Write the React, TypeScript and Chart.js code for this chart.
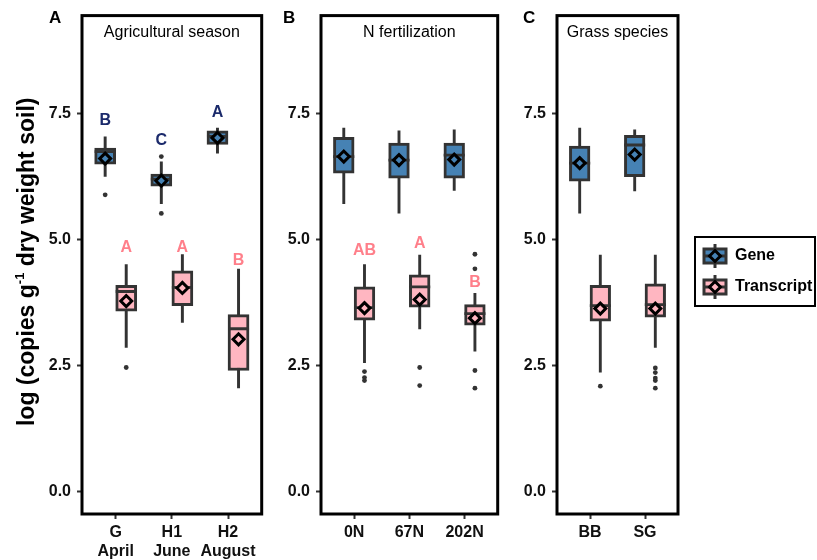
import React, { useEffect, useRef } from 'react';
import { Chart, registerables } from 'chart.js';

Chart.register(...registerables);

const FONT = '"Liberation Sans", Arial, Helvetica, sans-serif';

// ---------------- shared data ----------------
const seriesNames = ['Gene', 'Transcript'];
const seriesFills = ['#4682B4', '#FFB6C1'];
const letterColors = ['#1B2A6B', '#FF7F8A'];
const yTicks = [0, 2.5, 5, 7.5];
const yMin = -0.45;
const yMax = 9.45;
const yTitleParts = ['log (copies g', '-1', ' dry weight soil)'];
const panelTags = ['A', 'B', 'C'];
const panelTitles = ['Agricultural season', 'N fertilization', 'Grass species'];

// ---------------- Panel A: agricultural season ----------------
const seasonCategories = [['G', 'April'], ['H1', 'June'], ['H2', 'August']];
const seasonGeneLow = [6.25, 5.71, 6.71];
const seasonGeneQ1 = [6.5, 6.06, 6.89];
const seasonGeneMedian = [6.75, 6.2, 7.05];
const seasonGeneQ3 = [6.82, 6.3, 7.16];
const seasonGeneHigh = [7.05, 6.55, 7.22];
const seasonGeneMean = [6.61, 6.17, 7.02];
const seasonGeneOutliers = [[5.89], [6.65, 5.52], []];
const seasonGeneLetters = ['B', 'C', 'A'];
const seasonGeneLetterY = [7.37, 6.97, 7.52];

const seasonTxLow = [2.85, 3.35, 2.05];
const seasonTxQ1 = [3.58, 3.69, 2.4];
const seasonTxMedian = [3.97, 4.05, 3.23];
const seasonTxQ3 = [4.09, 4.38, 3.51];
const seasonTxHigh = [4.51, 4.71, 4.42];
const seasonTxMean = [3.78, 4.04, 3.02];
const seasonTxOutliers = [[2.46], [], []];
const seasonTxLetters = ['A', 'A', 'B'];
const seasonTxLetterY = [4.84, 4.84, 4.58];

// ---------------- Panel B: N fertilization ----------------
const fertCategories = [['0N'], ['67N'], ['202N']];
const fertGeneLow = [5.71, 5.52, 5.97];
const fertGeneQ1 = [6.32, 6.22, 6.22];
const fertGeneMedian = [6.65, 6.58, 6.68];
const fertGeneQ3 = [7.03, 6.92, 6.92];
const fertGeneHigh = [7.22, 7.17, 7.19];
const fertGeneMean = [6.65, 6.58, 6.59];
const fertGeneOutliers: number[][] = [[], [], []];

const fertTxLow = [2.55, 3.22, 2.78];
const fertTxQ1 = [3.4, 3.66, 3.3];
const fertTxMedian = [3.65, 4.06, 3.53];
const fertTxQ3 = [4.06, 4.3, 3.71];
const fertTxHigh = [4.51, 4.7, 3.94];
const fertTxMean = [3.64, 3.81, 3.44];
const fertTxOutliers = [[2.38, 2.26, 2.2], [2.46, 2.1], [4.71, 4.42, 2.4, 2.05]];
const fertTxLetters = ['AB', 'A', 'B'];
const fertTxLetterY = [4.78, 4.92, 4.15];

// ---------------- Panel C: grass species ----------------
const grassCategories = [['BB'], ['SG']];
const grassGeneLow = [5.52, 5.96];
const grassGeneQ1 = [6.16, 6.25];
const grassGeneMedian = [6.52, 6.88];
const grassGeneQ3 = [6.86, 7.07];
const grassGeneHigh = [7.22, 7.19];
const grassGeneMean = [6.52, 6.69];
const grassGeneOutliers: number[][] = [[], []];

const grassTxLow = [2.36, 2.85];
const grassTxQ1 = [3.38, 3.46];
const grassTxMedian = [3.69, 3.71];
const grassTxQ3 = [4.09, 4.12];
const grassTxHigh = [4.7, 4.7];
const grassTxMean = [3.63, 3.63];
const grassTxOutliers = [[2.09], [2.45, 2.36, 2.25, 2.2, 2.05]];

// ---------------- types & styling ----------------
type Stats = {
  low: number[]; q1: number[]; median: number[]; q3: number[]; high: number[];
  mean: number[]; outliers: number[][]; letters?: string[]; letterY?: number[];
};

type Layout = {
  left: number; width: number; axisWidth: number; padRight: number; tagDx: number;
  yTitle?: boolean; legend?: boolean;
};

type PanelSpec = { tag: string; title: string; categories: string[][]; series: Stats[]; layout: Layout };

const EDGE = '#333333';
const DODGE = [-0.1875, 0.1875];
const H = 560;

const panels: PanelSpec[] = [
  {
    tag: panelTags[0], title: panelTitles[0], categories: seasonCategories,
    series: [
      { low: seasonGeneLow, q1: seasonGeneQ1, median: seasonGeneMedian, q3: seasonGeneQ3, high: seasonGeneHigh, mean: seasonGeneMean, outliers: seasonGeneOutliers, letters: seasonGeneLetters, letterY: seasonGeneLetterY },
      { low: seasonTxLow, q1: seasonTxQ1, median: seasonTxMedian, q3: seasonTxQ3, high: seasonTxHigh, mean: seasonTxMean, outliers: seasonTxOutliers, letters: seasonTxLetters, letterY: seasonTxLetterY },
    ],
    layout: { left: 0, width: 275, axisWidth: 82, padRight: 9, tagDx: -33, yTitle: true },
  },
  {
    tag: panelTags[1], title: panelTitles[1], categories: fertCategories,
    series: [
      { low: fertGeneLow, q1: fertGeneQ1, median: fertGeneMedian, q3: fertGeneQ3, high: fertGeneHigh, mean: fertGeneMean, outliers: fertGeneOutliers },
      { low: fertTxLow, q1: fertTxQ1, median: fertTxMedian, q3: fertTxQ3, high: fertTxHigh, mean: fertTxMean, outliers: fertTxOutliers, letters: fertTxLetters, letterY: fertTxLetterY },
    ],
    layout: { left: 275, width: 236, axisWidth: 46, padRight: 7, tagDx: -38 },
  },
  {
    tag: panelTags[2], title: panelTitles[2], categories: grassCategories,
    series: [
      { low: grassGeneLow, q1: grassGeneQ1, median: grassGeneMedian, q3: grassGeneQ3, high: grassGeneHigh, mean: grassGeneMean, outliers: grassGeneOutliers },
      { low: grassTxLow, q1: grassTxQ1, median: grassTxMedian, q3: grassTxQ3, high: grassTxHigh, mean: grassTxMean, outliers: grassTxOutliers },
    ],
    layout: { left: 511, width: 306, axisWidth: 46, padRight: 139, tagDx: -34, legend: true },
  },
];

function buildDatasets(series: Stats[]) {
  const out: any[] = [];
  series.forEach((s, si) => {
    const name = seriesNames[si];
    const fill = seriesFills[si];
    const xs = s.q1.map((_, i) => i + 1 + DODGE[si]);
    out.push({
      type: 'bar', label: name + ' whiskers',
      data: xs.map((x, i) => ({ x, y: [s.low[i], s.high[i]] })),
      backgroundColor: EDGE, borderWidth: 0, grouped: false,
      categoryPercentage: 1, barPercentage: 0.14, order: 5,
    });
    out.push({
      type: 'bar', label: name,
      data: xs.map((x, i) => ({ x, y: [s.q1[i], s.q3[i]] })),
      backgroundColor: fill, borderColor: EDGE, borderWidth: 3, borderSkipped: false,
      grouped: false, categoryPercentage: 1, barPercentage: 1, order: 4,
    });
    out.push({
      type: 'scatter', label: name + ' median',
      data: xs.map((x, i) => ({ x, y: s.median[i] })),
      pointStyle: 'line', pointRadius: 10.5, pointBorderWidth: 2.8,
      pointBorderColor: EDGE, borderColor: EDGE, order: 3,
    });
    out.push({
      type: 'scatter', label: name + ' outliers',
      data: s.outliers.flatMap((arr, i) => arr.map((v) => ({ x: xs[i], y: v }))),
      pointStyle: 'circle', pointRadius: 2.4, pointBackgroundColor: EDGE,
      backgroundColor: EDGE, pointBorderWidth: 0, borderWidth: 0, order: 3,
    });
    out.push({
      type: 'scatter', label: name + ' mean',
      data: xs.map((x, i) => ({ x, y: s.mean[i] })),
      pointStyle: 'rectRot', pointRadius: 5.5, pointBackgroundColor: fill,
      backgroundColor: fill, pointBorderColor: '#000', borderColor: '#000',
      pointBorderWidth: 3, order: 1,
    });
  });
  return out;
}

function drawKey(ctx: CanvasRenderingContext2D, cx: number, cy: number, fill: string) {
  ctx.save();
  ctx.strokeStyle = EDGE;
  ctx.lineWidth = 3;
  ctx.beginPath();
  ctx.moveTo(cx, cy - 12);
  ctx.lineTo(cx, cy + 12);
  ctx.stroke();
  ctx.fillStyle = fill;
  ctx.fillRect(cx - 11, cy - 7, 22, 14);
  ctx.strokeRect(cx - 11, cy - 7, 22, 14);
  ctx.beginPath();
  ctx.moveTo(cx - 11, cy);
  ctx.lineTo(cx + 11, cy);
  ctx.stroke();
  ctx.fillStyle = fill;
  ctx.strokeStyle = '#000';
  ctx.beginPath();
  ctx.moveTo(cx, cy - 5.5);
  ctx.lineTo(cx + 5.5, cy);
  ctx.lineTo(cx, cy + 5.5);
  ctx.lineTo(cx - 5.5, cy);
  ctx.closePath();
  ctx.fill();
  ctx.stroke();
  ctx.restore();
}

function makePlugin(p: PanelSpec) {
  return {
    id: 'panelDecor',
    afterDraw(chart: any) {
      const { ctx, chartArea: a, scales } = chart;
      const xs = scales.x;
      const ys = scales.y;
      ctx.save();
      // panel border
      ctx.strokeStyle = '#000';
      ctx.lineWidth = 3;
      ctx.strokeRect(a.left, a.top, a.right - a.left, a.bottom - a.top);
      // panel title
      ctx.fillStyle = '#000';
      ctx.font = `16px ${FONT}`;
      ctx.textAlign = 'center';
      ctx.textBaseline = 'middle';
      ctx.fillText(p.title, (a.left + a.right) / 2, a.top + 17);
      // tag
      ctx.font = `bold 17px ${FONT}`;
      ctx.textAlign = 'left';
      ctx.fillText(p.tag, a.left + p.layout.tagDx, 18);
      // significance letters
      ctx.font = `bold 16px ${FONT}`;
      ctx.textAlign = 'center';
      p.series.forEach((s, si) => {
        if (!s.letters || !s.letterY) return;
        ctx.fillStyle = letterColors[si];
        s.letters.forEach((L, i) => {
          ctx.fillText(L, xs.getPixelForValue(i + 1 + DODGE[si]), ys.getPixelForValue(s.letterY![i]));
        });
      });
      // y-axis title
      if (p.layout.yTitle) {
        const fonts = [`bold 23px ${FONT}`, `bold 13px ${FONT}`, `bold 23px ${FONT}`];
        const dys = [0, -10, 0];
        const widths = yTitleParts.map((t, i) => { ctx.font = fonts[i]; return ctx.measureText(t).width; });
        const total = widths.reduce((u, v) => u + v, 0);
        ctx.save();
        ctx.translate(34, (a.top + a.bottom) / 2 - 3);
        ctx.rotate(-Math.PI / 2);
        ctx.fillStyle = '#000';
        ctx.textAlign = 'left';
        ctx.textBaseline = 'alphabetic';
        let x = -total / 2;
        yTitleParts.forEach((t, i) => {
          ctx.font = fonts[i];
          ctx.fillText(t, x, dys[i]);
          x += widths[i];
        });
        ctx.restore();
      }
      // legend
      if (p.layout.legend) {
        const lx = a.right + 17;
        const ly = 237;
        ctx.strokeStyle = '#000';
        ctx.lineWidth = 2;
        ctx.strokeRect(lx, ly, 120, 69);
        seriesNames.forEach((n, i) => {
          const cy = ly + 19 + i * 31;
          drawKey(ctx, lx + 20, cy, seriesFills[i]);
          ctx.fillStyle = '#000';
          ctx.font = `bold 16px ${FONT}`;
          ctx.textAlign = 'left';
          ctx.textBaseline = 'middle';
          ctx.fillText(n, lx + 40, cy);
        });
      }
      ctx.restore();
    },
  };
}

function Panel({ p }: { p: PanelSpec }) {
  const ref = useRef<HTMLCanvasElement | null>(null);
  useEffect(() => {
    if (!ref.current) return;
    const L = p.layout;
    const n = p.categories.length;
    const tickFont = { family: FONT, size: 16, weight: 'bold' as const };
    const chart = new Chart(ref.current, {
      type: 'bar',
      data: { datasets: buildDatasets(p.series) },
      options: {
        responsive: false,
        animation: false,
        devicePixelRatio: 1,
        events: [],
        layout: { padding: { top: 11, right: L.padRight, bottom: 0, left: 0 } },
        plugins: { legend: { display: false }, tooltip: { enabled: false }, title: { display: false } },
        scales: {
          x: {
            type: 'linear',
            min: 0.4,
            max: n + 0.6,
            offset: false,
            grid: { display: true, offset: false, drawOnChartArea: false, drawTicks: true, tickLength: 5, tickColor: EDGE, tickWidth: 2 },
            border: { display: false },
            afterBuildTicks: (s: any) => { s.ticks = p.categories.map((_, i) => ({ value: i + 1 })); },
            afterFit: (s: any) => { s.height = 46; },
            ticks: {
              autoSkip: false, maxRotation: 0, minRotation: 0, padding: 4, color: '#111', font: tickFont,
              callback: (_v: any, i: number) => p.categories[i],
            },
          },
          y: {
            type: 'linear',
            min: yMin,
            max: yMax,
            stacked: false,
            grid: { display: true, drawOnChartArea: false, drawTicks: true, tickLength: 5, tickColor: EDGE, tickWidth: 2 },
            border: { display: false },
            afterBuildTicks: (s: any) => { s.ticks = yTicks.map((v) => ({ value: v })); },
            afterFit: (s: any) => { s.width = L.axisWidth; },
            ticks: { padding: 6, color: '#111', font: tickFont, callback: (v: any) => Number(v).toFixed(1) },
          },
        },
      } as any,
      plugins: [makePlugin(p)],
    });
    return () => chart.destroy();
  }, [p]);
  return (
    <canvas
      ref={ref}
      width={p.layout.width}
      height={H}
      style={{ position: 'absolute', left: p.layout.left, top: 0, width: p.layout.width, height: H }}
    />
  );
}

export default function App() {
  return (
    <div style={{ position: 'absolute', left: 0, top: 0, width: 817, height: H, background: '#fff', overflow: 'hidden' }}>
      {panels.map((p) => (
        <Panel key={p.tag} p={p} />
      ))}
    </div>
  );
}
